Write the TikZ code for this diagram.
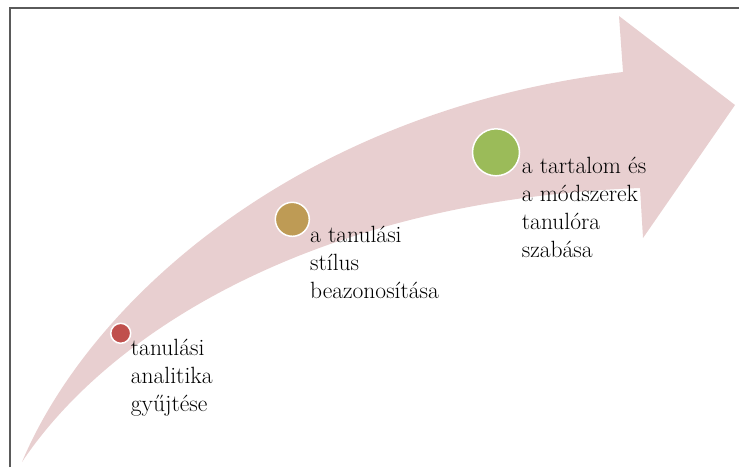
\documentclass[tikz,border=0pt]{standalone}
\usepackage{fontspec}
\definecolor{arrowpink}{RGB}{232,207,208}
\definecolor{dotred}{RGB}{192,80,77}
\definecolor{dotgold}{RGB}{190,155,85}
\definecolor{dotgreen}{RGB}{155,187,89}
\definecolor{framegray}{RGB}{90,90,90}
\begin{document}
\begin{tikzpicture}[x=1pt,y=-1pt,
  dot/.style={circle,draw=white,line width=1.5pt,inner sep=0pt},
  lbl/.style={anchor=base west,inner sep=0pt,font=\fontsize{23.5}{28}\selectfont}]
\useasboundingbox (0,0) rectangle (739,467);
% curved arrow
\fill[arrowpink] (22,462) .. controls (90,300) and (300,110) .. (623,72)
  -- (619,16) -- (735,105) -- (643,238) -- (640,188)
  .. controls (320,200) and (110,330) .. (22,462) -- cycle;
% frame
\draw[framegray,line width=1.2pt] (10,467) -- (10,8) -- (739,8);
% dots
\node[dot,fill=dotred,minimum size=20pt] (d1) at (120.7,333.3) {};
\node[dot,fill=dotgold,minimum size=34pt] (d2) at (292.3,219.3) {};
\node[dot,fill=dotgreen,minimum size=47pt] (d3) at (496,152.3) {};
% labels
\node[lbl] (t1) at (130.7,355) {\vtop{\hbox{tanulási}\hbox{analitika}\hbox{gyűjtése}}};
\node[lbl] (t2) at (310,242) {\vtop{\hbox{a tanulási}\hbox{stílus}\hbox{beazonosítása}}};
\node[lbl] (t3) at (521.7,173.3) {\vtop{\hbox{a tartalom és}\hbox{a módszerek}\hbox{tanulóra}\hbox{szabása}}};
\end{tikzpicture}
\end{document}
